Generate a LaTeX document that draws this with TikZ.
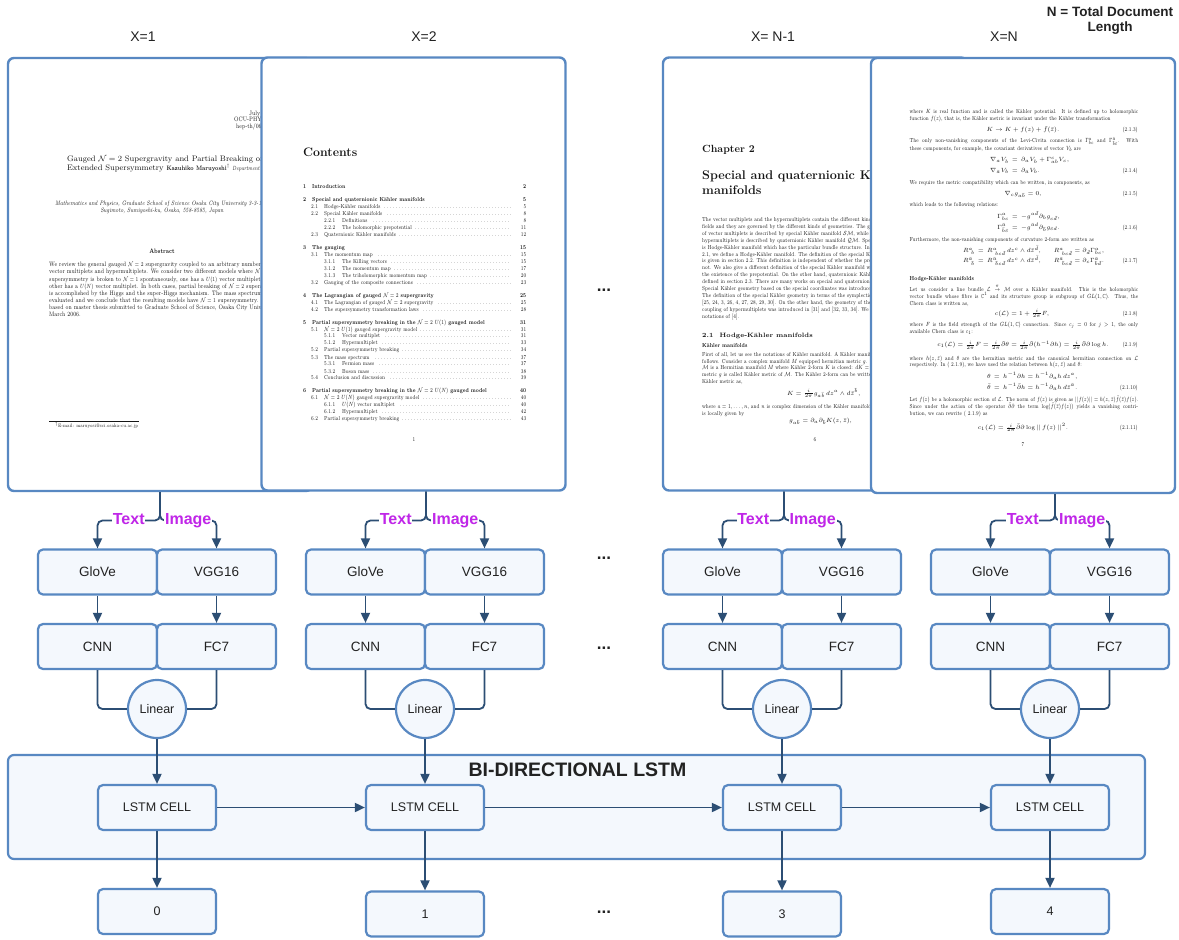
\documentclass[tikz,border=0pt]{standalone}
\usepackage{amsmath,amssymb}
\usepackage{graphicx}
\usepackage{fontspec}
\newfontfamily\lab{Liberation Sans}
\usetikzlibrary{arrows.meta}

\definecolor{edge}{RGB}{88,136,194}
\definecolor{boxfill}{RGB}{244,248,253}
\definecolor{wirecol}{RGB}{44,78,116}
\definecolor{tagpurple}{RGB}{192,38,232}
\definecolor{ink}{RGB}{34,34,34}
\definecolor{pageink}{RGB}{22,22,22}

% text size used on the scanned document pages
\newcommand\pgsize{5.8}
\newcommand\pgfont{\fontsize{\pgsize}{6.5}\selectfont}
% the page scans are narrower than Latin Modern: squeeze body text
\newcommand\sq[1]{\scalebox{0.75}[1]{#1}}

\tikzset{
  page/.style={draw=edge, line width=2.4pt, fill=white, rounded corners=6pt,
    minimum width=304pt, minimum height=433pt, inner sep=0pt},
  blk/.style={draw=edge, line width=2.2pt, fill=boxfill, rounded corners=5pt,
    minimum width=119pt, minimum height=45pt, inner sep=0pt, text=ink,
    font=\lab\fontsize{13.5}{16}\selectfont},
  cellbox/.style={blk, minimum width=118pt, font=\lab\fontsize{12.5}{15}\selectfont},
  lin/.style={circle, draw=edge, line width=2.2pt, fill=boxfill, minimum size=58pt,
    inner sep=0pt, text=ink, font=\lab\fontsize{12.5}{15}\selectfont},
  wire/.style={draw=wirecol, line width=1.8pt},
  arr/.style={wire, -{Triangle[length=10pt,width=9pt]}},
  tag/.style={text=tagpurple, fill=white, inner sep=0.8pt, anchor=base,
    font=\lab\bfseries\fontsize{16}{18}\selectfont},
  hdr/.style={text=ink, font=\lab\fontsize{14}{16}\selectfont},
  dots/.style={text=ink, anchor=base, inner sep=0pt, font=\lab\bfseries\fontsize{17}{18}\selectfont},
  pl/.style={anchor=base west, inner sep=0pt, text=pageink, font=\pgfont},
  pr/.style={anchor=base east, inner sep=0pt, text=pageink, font=\pgfont},
  pc/.style={anchor=base, inner sep=0pt, text=pageink, font=\pgfont},
}

% printed lines on a document page (squeezed body text)
\newcounter{pgline}
\newcommand\pL[3]{\stepcounter{pgline}\node[pl] (t\arabic{pgline}) at (#1,#2) {\sq{#3}};}
\newcommand\pC[3]{\stepcounter{pgline}\node[pc] (t\arabic{pgline}) at (#1,#2) {\sq{#3}};}
\newcommand\pR[3]{\stepcounter{pgline}\node[pr] (t\arabic{pgline}) at (#1,#2) {\sq{#3}};}
% justified line: x, y, squeezed box width, text
\newcommand\pJ[4]{\stepcounter{pgline}\node[pl] (t\arabic{pgline}) at (#1,#2) {\sq{\makebox[#3pt][s]{#4}}};}
% headings and displayed formulas (natural width)
\newcommand\mL[3]{\stepcounter{pgline}\node[pl] (t\arabic{pgline}) at (#1,#2) {#3};}
\newcommand\mC[3]{\stepcounter{pgline}\node[pc] (t\arabic{pgline}) at (#1,#2) {#3};}
\newcommand\mR[3]{\stepcounter{pgline}\node[pr] (t\arabic{pgline}) at (#1,#2) {#3};}
% aligned display line: y, x of the = sign, left side, right side
\newcommand\pEq[4]{\mR{#2-6}{#1}{$#3$}\mC{#2}{#1}{$=$}\mL{#2+6}{#1}{$#4$}}
% table of contents lines
\newcommand\dotleader{\leaders\hbox to 4pt{\hss.\hss}\hfill}
\newcommand\tocS[4]{\pL{303}{#1}{\bfseries\makebox[297.3pt][l]{\makebox[12pt][l]{#2}#3\hfill#4}}}
\newcommand\tocA[4]{\pL{311}{#1}{\makebox[286.7pt][l]{\makebox[17.3pt][l]{#2}#3\ \dotleader\makebox[18.7pt][r]{#4}}}}
\newcommand\tocB[4]{\pL{324}{#1}{\makebox[269.3pt][l]{\makebox[24pt][l]{#2}#3\ \dotleader\makebox[18.7pt][r]{#4}}}}

\begin{document}
\begin{tikzpicture}[x=1pt,y=-1pt]
\useasboundingbox (0,0) rectangle (1179,940);

% ---------------- column headers ----------------
\node[hdr] (h1) at (143,37) {X=1};
\node[hdr] (h2) at (424,37) {X=2};
\node[hdr] (h3) at (773,37) {X= N-1};
\node[hdr] (h4) at (1004,37) {X=N};
\node[hdr, font=\lab\bfseries\fontsize{13.5}{15}\selectfont, align=center] (hN) at (1110,20.5)
  {N = Total Document\\Length};

% ---------------- page 1: title page ----------------
\node[page] (p1) at (160,274.5) {};
\renewcommand\pgsize{6.4}
\pL{249}{115}{July}
\pL{234}{121.7}{OCU-PHYS}
\pL{236}{128.4}{hep-th/06}
\mL{67}{161}{\fontsize{8}{9}\selectfont Gauged $\mathcal{N}=2$ Supergravity and Partial Breaking of}
\mL{67}{170}{\fontsize{8}{9}\selectfont Extended Supersymmetry \sq{\fontsize{6.4}{7}\selectfont\bfseries Kazuhiko Maruyoshi$^\dagger$} \sq{\fontsize{6}{6.5}\selectfont\itshape Department of}}
\pL{55}{205.3}{\itshape Mathematics and Physics, Graduate School of Science Osaka City University 3-3-138}
\pC{162}{212}{\itshape Sugimoto, Sumiyoshi-ku, Osaka, 558-8585, Japan}
\pC{162}{253.5}{\bfseries Abstract}
\pL{49}{266.7}{We review the general gauged $\mathcal{N}=2$ supergravity coupled to an arbitrary number of}
\pL{49}{273.9}{vector multiplets and hypermultiplets. We consider two different models where $\mathcal{N}=2$}
\pL{49}{281.0}{supersymmetry is broken to $\mathcal{N}=1$ spontaneously, one has a $U(1)$ vector multiplet and the}
\pL{49}{288.2}{other has a $U(N)$ vector multiplet. In both cases, partial breaking of $\mathcal{N}=2$ supersymmetry}
\pL{49}{295.3}{is accomplished by the Higgs and the super-Higgs mechanism. The mass spectrum of each model is}
\pL{49}{302.5}{evaluated and we conclude that the resulting models have $\mathcal{N}=1$ supersymmetry. This thesis is}
\pL{49}{309.6}{based on master thesis submitted to Graduate School of Science, Osaka City University in}
\pL{49}{316.8}{March 2006.}
\draw[pageink, line width=0.4pt] (49,421) -- (139,421);
\pL{55}{427.5}{\fontsize{4.9}{5}\selectfont $^\dagger$E-mail: maruyosi@sci.osaka-cu.ac.jp}
\renewcommand\pgsize{5.8}

% ---------------- page 2: contents ----------------
\node[page] (p2) at (413.5,274) {};
\mL{303}{156.3}{\fontsize{12.3}{14}\selectfont\bfseries Contents}
\tocS{188.9}{1}{Introduction}{2}
\tocS{201.6}{2}{Special and quaternionic Kähler manifolds}{5}
\tocA{208.9}{2.1}{Hodge-Kähler manifolds}{5}
\tocA{215.9}{2.2}{Special Kähler manifolds}{8}
\tocB{222.9}{2.2.1}{Definitions}{8}
\tocB{229.9}{2.2.2}{The holomorphic prepotential}{11}
\tocA{236.9}{2.3}{Quaternionic Kähler manifolds}{12}
\tocS{249.3}{3}{The gauging}{15}
\tocA{256.6}{3.1}{The momentum map}{15}
\tocB{263.6}{3.1.1}{The Killing vectors}{15}
\tocB{270.6}{3.1.2}{The momentum map}{17}
\tocB{277.6}{3.1.3}{The triholomorphic momentum map}{20}
\tocA{284.6}{3.2}{Gauging of the composite connections}{23}
\tocS{297.3}{4}{The Lagrangian of gauged $\mathcal{N}=2$ supergravity}{25}
\tocA{304.3}{4.1}{The Lagrangian of gauged $\mathcal{N}=2$ supergravity}{25}
\tocA{311.3}{4.2}{The supersymmetry transformation laws}{28}
\tocS{324.3}{5}{Partial supersymmetry breaking in the $\mathcal{N}=2$ $U(1)$ gauged model}{31}
\tocA{331.3}{5.1}{$\mathcal{N}=2$ $U(1)$ gauged supergravity model}{31}
\tocB{337.9}{5.1.1}{Vector multiplet}{31}
\tocB{344.9}{5.1.2}{Hypermultiplet}{33}
\tocA{351.9}{5.2}{Partial supersymmetry breaking}{34}
\tocA{359.3}{5.3}{The mass spectrum}{37}
\tocB{365.9}{5.3.1}{Fermion mass}{37}
\tocB{373.3}{5.3.2}{Boson mass}{38}
\tocA{379.9}{5.4}{Conclusion and discussion}{39}
\tocS{392.6}{6}{Partial supersymmetry breaking in the $\mathcal{N}=2$ $U(N)$ gauged model}{40}
\tocA{399.9}{6.1}{$\mathcal{N}=2$ $U(N)$ gauged supergravity model}{40}
\tocB{406.9}{6.1.1}{$U(N)$ vector multiplet}{40}
\tocB{413.9}{6.1.2}{Hypermultiplet}{42}
\tocA{420.9}{6.2}{Partial supersymmetry breaking}{43}
\pC{414}{441}{1}

% ---------------- page 3: chapter opening ----------------
\node[page] (p3) at (815,274) {};
\mL{702}{152.5}{\fontsize{10.4}{12}\selectfont\bfseries Chapter 2}
\mL{702}{179.3}{\fontsize{12.6}{14}\selectfont\bfseries Special and quaternionic Kähler}
\mL{702}{194.3}{\fontsize{12.6}{14}\selectfont\bfseries manifolds}
\pL{702}{221.5}{The vector multiplets and the hypermultiplets contain the different kinds of scalar}
\pL{702}{228.4}{fields and they are governed by the different kinds of geometries. The geometry}
\pL{702}{235.3}{of vector multiplets is described by special Kähler manifold $\mathcal{SM}$, while that of}
\pL{702}{242.2}{hypermultiplets is described by quaternionic Kähler manifold $\mathcal{QM}$. Special Kähler}
\pL{702}{249.1}{is Hodge-Kähler manifold which has the particular bundle structure. In section}
\pL{702}{256.0}{2.1, we define a Hodge-Kähler manifold. The definition of the special Kähler manifold}
\pL{702}{262.9}{is given in section 2.2. This definition is independent of whether the prepotential exists}
\pL{702}{269.8}{not. We also give a different definition of the special Kähler manifold which requires}
\pL{702}{276.7}{the existence of the prepotential. On the other hand, quaternionic Kähler manifold is}
\pL{702}{283.6}{defined in section 2.3. There are many works on special and quaternionic geometry.}
\pL{702}{290.5}{Special Kähler geometry based on the special coordinates was introduced in [22, 23].}
\pL{702}{297.4}{The definition of the special Kähler geometry in terms of the symplectic bundle is in}
\pL{702}{304.3}{[25, 24, 3, 26, 4, 27, 28, 29, 30]. On the other hand, the geometry of the general}
\pL{702}{311.2}{coupling of hypermultiplets was introduced in [31] and [32, 33, 34]. We follow the}
\pL{702}{318.1}{notations of [4].}
\mL{702}{337}{\fontsize{6.3}{7}\selectfont\bfseries 2.1\quad Hodge-Kähler manifolds}
\pL{702}{347.5}{\bfseries Kähler manifolds}
\pL{702}{356.5}{First of all, let us see the notations of Kähler manifold. A Kähler manifold is defined as}
\pL{702}{363.2}{follows. Consider a complex manifold $M$ equipped hermitian metric $g$. A Kähler manifold}
\pL{702}{369.8}{$\mathcal{M}$ is a Hermitian manifold $M$ where Kähler 2-form $K$ is closed: $dK=0$. The hermitian}
\pL{702}{376.5}{metric $g$ is called Kähler metric of $\mathcal{M}$. The Kähler 2-form can be written in terms of}
\pL{702}{383.2}{Kähler metric as,}
\mL{787}{395}{$K=\frac{i}{2\pi}g_{a\bar b}\,dz^a\wedge d\bar z^{\bar b},$}
\pL{702}{408.5}{where $a=1,\dots,n$, and $n$ is complex dimension of the Kähler manifold. The Kähler metric}
\pL{702}{415.5}{is locally given by}
\mL{789}{422.5}{$g_{a\bar b}=\partial_a\partial_{\bar b}K(z,\bar z),$}
\pC{815}{441.5}{6}

% ---------------- page 4: body page ----------------
\node[page, minimum height=435pt] (p4) at (1023,275.5) {};
\pJ{909.5}{113.3}{304.7}{where $K$ is real function and is called the Kähler potential. It is defined up to holomorphic}
\pL{909.5}{120}{function $f(z)$, that is, the Kähler metric is invariant under the Kähler transformation}
\mC{1023}{131.7}{$K\to K+f(z)+\bar f(\bar z).$}
\pR{1138}{131.7}{(2.1.3)}
\pJ{909.5}{142.7}{304.7}{The only non-vanishing components of the Levi-Civita connection is $\Gamma^a_{bc}$ and $\Gamma^{\bar a}_{\bar b\bar c}$. With}
\pL{909.5}{150}{these components, for example, the covariant derivatives of vector $V_b$ are}
\pEq{161.7}{1015}{\nabla_a V_b}{\partial_a V_b+\Gamma^c_{ab}V_c,}
\pEq{172.4}{1015}{\nabla_{\bar a} V_b}{\partial_{\bar a} V_b.}
\pR{1138}{172.4}{(2.1.4)}
\pL{909.5}{184.4}{We require the metric compatibility which can be written, in components, as}
\mC{1023}{195.7}{$\nabla_c g_{a\bar b}=0,$}
\pR{1138}{195.7}{(2.1.5)}
\pL{909.5}{206.7}{which leads to the following relations:}
\pEq{218.4}{1015}{\Gamma^a_{bc}}{-g^{a\bar d}\partial_b g_{c\bar d},}
\pEq{229.4}{1015}{\Gamma^{\bar a}_{\bar b\bar c}}{-g^{\bar a d}\partial_{\bar b} g_{\bar c d}.}
\pR{1138}{229.4}{(2.1.6)}
\pL{909.5}{241}{Furthermore, the non-vanishing components of curvature 2-form are written as}
\pEq{252.7}{981}{R^a_{\ b}}{R^a_{\ bc\bar d}\,dz^c\wedge d\bar z^{\bar d},\qquad R^a_{\ bc\bar d}=\partial_{\bar d}\Gamma^a_{bc},}
\pEq{262.7}{981}{R^{\bar a}_{\ \bar b}}{R^{\bar a}_{\ \bar b c\bar d}\,dz^c\wedge d\bar z^{\bar d},\qquad R^{\bar a}_{\ \bar b c\bar d}=\partial_c\Gamma^{\bar a}_{\bar b\bar d}.}
\pR{1138}{262.7}{(2.1.7)}
\pL{909.5}{280}{\bfseries Hodge-Kähler manifolds}
\pJ{909.5}{291}{304.7}{Let us consider a line bundle $\mathcal{L}\stackrel{\pi}{\to}\mathcal{M}$ over a Kähler manifold. This is the holomorphic}
\pJ{909.5}{298.4}{304.7}{vector bundle whose fibre is $\mathbb{C}^1$ and its structure group is subgroup of $GL(1,\mathbb{C})$. Thus, the}
\pL{909.5}{305.7}{Chern class is written as,}
\mC{1022}{315}{$c(\mathcal{L})=1+\frac{i}{2\pi}F,$}
\pR{1138}{315}{(2.1.8)}
\pJ{909.5}{326.7}{304.7}{where $F$ is the field strength of the $GL(1,\mathbb{C})$ connection. Since $c_j=0$ for $j>1$, the only}
\pL{909.5}{333.4}{available Chern class is $c_1$:}
\mC{1023}{346.7}{$c_1(\mathcal{L})=\frac{i}{2\pi}F=\frac{i}{2\pi}\bar\partial\theta=\frac{i}{2\pi}\bar\partial(h^{-1}\partial h)=\frac{i}{2\pi}\bar\partial\partial\log h.$}
\pR{1138}{346.7}{(2.1.9)}
\pJ{909.5}{360}{304.7}{where $h(z,\bar z)$ and $\theta$ are the hermitian metric and the canonical hermitian connection on $\mathcal{L}$}
\pL{909.5}{366.7}{respectively. In ( 2.1.9), we have used the relation between $h(z,\bar z)$ and $\theta$:}
\pEq{378.4}{997}{\theta}{h^{-1}\partial h=h^{-1}\partial_a h\,dz^a,}
\pEq{389.4}{997}{\bar\theta}{h^{-1}\bar\partial h=h^{-1}\partial_{\bar a} h\,d\bar z^{\bar a}.}
\pR{1138}{389.4}{(2.1.10)}
\pJ{909.5}{401}{304.7}{Let $f(z)$ be a holomorphic section of $\mathcal{L}$. The norm of $f(z)$ is given as $||f(z)||=h(z,\bar z)\bar f(\bar z)f(z)$.}
\pJ{909.5}{408.4}{304.7}{Since under the action of the operator $\bar\partial\partial$ the term $\log(\bar f(\bar z)f(z))$ yields a vanishing contri-}
\pL{909.5}{415.7}{bution, we can rewrite ( 2.1.9) as}
\mC{1023}{429.4}{$c_1(\mathcal{L})=\frac{i}{2\pi}\bar\partial\partial\log||\,f(z)\,||^2.$}
\pR{1138}{429.4}{(2.1.11)}
\pC{1023}{446.7}{7}

% ---------------- bi-directional LSTM block ----------------
\node[draw=edge, line width=2.2pt, fill=boxfill, rounded corners=6pt,
  minimum width=1137pt, minimum height=104pt, inner sep=0pt] (bilstm) at (576.5,807) {};
\node[text=ink, font=\lab\bfseries\fontsize{19.5}{22}\selectfont] (bititle) at (577.5,770) {BI-DIRECTIONAL LSTM};

% ---------------- one feature column per page ----------------
\foreach \i/\c/\s/\oy/\ov in {1/157/160/911.5/0, 2/425/426/914/1, 3/782/784/914/3, 4/1050/1055/911.5/4} {
  \node[blk] (glove\i) at (\c-59.5,572) {GloVe};
  \node[blk] (vgg\i) at (\c+59.5,572) {VGG16};
  \node[blk] (cnn\i) at (\c-59.5,646.5) {CNN};
  \node[blk] (fc\i) at (\c+59.5,646.5) {FC7};
  \node[lin] (lin\i) at (\c,709) {Linear};
  \coordinate (split\i) at (\s,520.5);
  \draw[arr, rounded corners=5pt] (p\i.south -| split\i) -- (split\i) -| (glove\i.north);
  \draw[arr, rounded corners=5pt] (p\i.south -| split\i) -- (split\i) -| (vgg\i.north);
  \node[tag] (txt\i) at ({(\c-59.5+\s)/2},524) {Text};
  \node[tag] (img\i) at ({(\c+59.5+\s)/2},524) {Image};
  \draw[arr] (glove\i) -- (cnn\i);
  \draw[arr] (vgg\i) -- (fc\i);
  \draw[wire, rounded corners=5pt] (cnn\i.south) |- (lin\i.west);
  \draw[wire, rounded corners=5pt] (fc\i.south) |- (lin\i.east);
  \node[cellbox] (cell\i) at (\c,807.5) {LSTM CELL};
  \node[cellbox] (out\i) at (\c,\oy) {\ov};
  \draw[arr] (lin\i) -- (cell\i);
  \draw[arr] (cell\i) -- (out\i);
}
\draw[arr] (cell1) -- (cell2);
\draw[arr] (cell2) -- (cell3);
\draw[arr] (cell3) -- (cell4);

% ---------------- ellipses between columns ----------------
\node[dots] (e1) at (604,291.3) {...};
\node[dots] (e2) at (604,559.3) {...};
\node[dots] (e3) at (604,649.3) {...};
\node[dots] (e4) at (604,913.3) {...};
\end{tikzpicture}
\end{document}
